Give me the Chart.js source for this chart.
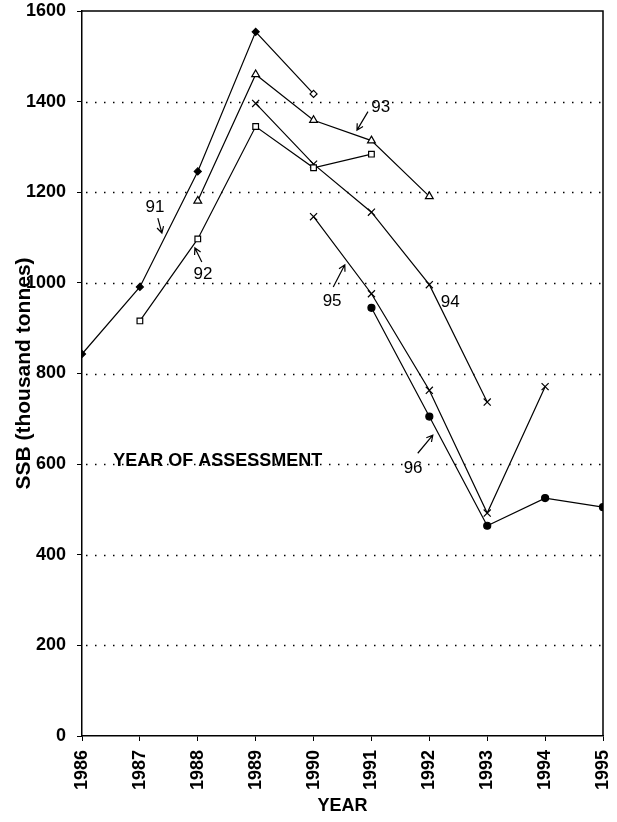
<!DOCTYPE html>
<html>
<head>
<meta charset="utf-8">
<script src="https://cdn.jsdelivr.net/npm/chart.js@4/dist/chart.umd.min.js"></script>
<style>
  html,body{margin:0;padding:0;background:#fff;}
  #wrap{width:617px;height:822px;}
</style>
</head>
<body>
<div id="wrap"><canvas id="c" width="617" height="822"></canvas></div>
<script>
// ---------- data (SSB by year of assessment) ----------
const years   = [1986,1987,1988,1989,1990,1991,1992,1993,1994,1995];
const yTicks  = [0,200,400,600,800,1000,1200,1400,1600];
const gridAt  = [200,400,600,800,1000,1200,1400];

const a91x = [1986,1987,1988,1989,1990];
const a91y = [843, 991, 1246, 1554, 1417];
const a92x = [1987,1988,1989,1990,1991];
const a92y = [916, 1097, 1345, 1254, 1284];
const a93x = [1988,1989,1990,1991,1992];
const a93y = [1181, 1460, 1359, 1314, 1191];
const a94x = [1989,1990,1991,1992,1993];
const a94y = [1396, 1262, 1156, 996, 737];
const a95x = [1990,1991,1992,1993,1994];
const a95y = [1146, 976, 763, 492, 771];
const a96x = [1991,1992,1993,1994,1995];
const a96y = [945, 705, 464, 525, 505];

// labels placed in data units
const notes = [
  { t:'91', x:1987.26, y:1166 },
  { t:'92', x:1988.09, y:1018 },
  { t:'93', x:1991.16, y:1387 },
  { t:'94', x:1992.36, y:958 },
  { t:'95', x:1990.32, y:960 },
  { t:'96', x:1991.72, y:591 }
];
const arrows = [
  { x1:1987.31, y1:1143, x2:1987.38, y2:1110 },
  { x1:1988.07, y1:1046, x2:1987.95, y2:1077 },
  { x1:1990.94, y1:1378, x2:1990.75, y2:1337 },
  { x1:1990.34, y1:991,  x2:1990.54, y2:1040 },
  { x1:1991.80, y1:624,  x2:1992.06, y2:664 }
];

const FONT = '"Liberation Sans", Arial, sans-serif';
const pts = (xs, ys) => xs.map((x,i)=>({x, y:ys[i]}));

function series(label, xs, ys, style, radius, fill){
  return {
    label, data: pts(xs, ys),
    borderColor:'#000', borderWidth:1.2,
    pointStyle: style, pointRadius: radius, pointHoverRadius: radius,
    pointBorderColor:'#000', pointBorderWidth:1.2,
    pointBackgroundColor: fill,
    tension:0, fill:false
  };
}

// ---------- plugin: dotted grid, frame, notes, arrows ----------
const extras = {
  id:'extras',
  beforeDatasetsDraw(chart){
    const {ctx, chartArea:a, scales:{y}} = chart;
    ctx.save();
    ctx.strokeStyle = '#000'; ctx.lineWidth = 1.3;
    ctx.setLineDash([1.5, 7.5]);
    gridAt.forEach(v => {
      const py = Math.round(y.getPixelForValue(v)) + 0.5;
      ctx.beginPath(); ctx.moveTo(a.left + 4, py); ctx.lineTo(a.right, py); ctx.stroke();
    });
    ctx.restore();
  },
  afterDatasetsDraw(chart){
    const {ctx, chartArea:a, scales:{x, y}} = chart;
    ctx.save();
    ctx.strokeStyle = '#000';
    ctx.lineWidth = 1.5;
    ctx.beginPath();
    ctx.moveTo(a.left, a.top); ctx.lineTo(a.right, a.top); ctx.lineTo(a.right, a.bottom);
    ctx.stroke();

    ctx.fillStyle = '#000';
    ctx.font = '17px ' + FONT;
    ctx.textAlign = 'center'; ctx.textBaseline = 'middle';
    notes.forEach(n => ctx.fillText(n.t, x.getPixelForValue(n.x), y.getPixelForValue(n.y)));

    ctx.font = 'bold 18px ' + FONT;
    ctx.textAlign = 'left';
    ctx.fillText('YEAR OF ASSESSMENT', x.getPixelForValue(1986.54), y.getPixelForValue(607));

    ctx.lineWidth = 1.2;
    arrows.forEach(r => {
      const x1 = x.getPixelForValue(r.x1), y1 = y.getPixelForValue(r.y1);
      const x2 = x.getPixelForValue(r.x2), y2 = y.getPixelForValue(r.y2);
      const ang = Math.atan2(y2-y1, x2-x1), h = 7;
      ctx.beginPath();
      ctx.moveTo(x1,y1); ctx.lineTo(x2,y2);
      ctx.moveTo(x2 - h*Math.cos(ang-0.5), y2 - h*Math.sin(ang-0.5));
      ctx.lineTo(x2,y2);
      ctx.lineTo(x2 - h*Math.cos(ang+0.5), y2 - h*Math.sin(ang+0.5));
      ctx.stroke();
    });
    ctx.restore();
  }
};

new Chart(document.getElementById('c'), {
  type:'line',
  data:{ datasets:[
    series('91', a91x, a91y, 'rectRot', 3.5, ['#000','#000','#000','#000','#fff']),
    series('92', a92x, a92y, 'rect', 4, '#fff'),
    series('93', a93x, a93y, 'triangle', 4.5, '#fff'),
    series('94', a94x, a94y, 'crossRot', 5, '#fff'),
    series('95', a95x, a95y, 'crossRot', 5, '#fff'),
    series('96', a96x, a96y, 'circle', 3.5, '#000')
  ]},
  options:{
    responsive:false, animation:false,
    layout:{ padding:{ left:0, right:0, top:11, bottom:0 } },
    plugins:{ legend:{display:false}, tooltip:{enabled:false} },
    scales:{
      x:{
        type:'linear', min:1986, max:1995,
        afterBuildTicks: s => { s.ticks = years.map(v=>({value:v})); },
        afterFit: s => { s.height = 86; s.paddingRight = 14; s.paddingLeft = 0; },
        ticks:{ color:'#000', minRotation:90, maxRotation:90, padding:9,
                font:{ family:FONT, size:18, weight:'bold' }, callback: v => String(v) },
        grid:{ drawOnChartArea:false, tickLength:5, color:'#000', tickColor:'#000' },
        border:{ color:'#000', width:1.5 },
        title:{ display:true, text:'YEAR', color:'#000', padding:{top:0,bottom:5},
                font:{ family:FONT, size:18, weight:'bold' } }
      },
      y:{
        min:0, max:1600,
        afterBuildTicks: s => { s.ticks = yTicks.map(v=>({value:v})); },
        afterFit: s => { s.width = 82; s.paddingTop = 0; s.paddingBottom = 0; },
        ticks:{ color:'#000', padding:11, font:{ family:FONT, size:18, weight:'bold' },
                callback: v => String(v) },
        grid:{ drawOnChartArea:false, tickColor:'#000', tickLength:5 },
        border:{ color:'#000', width:1.5 },
        title:{ display:true, text:'SSB (thousand tonnes)', color:'#000', padding:{top:12,bottom:0},
                font:{ family:FONT, size:21, weight:'bold' } }
      }
    }
  },
  plugins:[extras]
});
</script>
</body>
</html>
